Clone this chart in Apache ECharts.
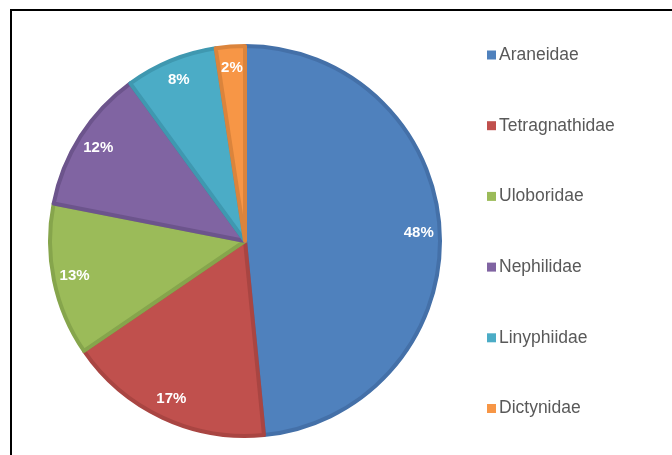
<!DOCTYPE html>
<html>
<head>
<meta charset="utf-8">
<script src="https://cdn.jsdelivr.net/npm/echarts@6/dist/echarts.min.js"></script>
<style>
  html, body { margin: 0; padding: 0; background: #fff; }
  #chart { width: 672px; height: 455px; }
</style>
</head>
<body>
<div id="chart"></div>
<script>
// spider families, share of individuals (%)
const families = ['Araneidae', 'Tetragnathidae', 'Uloboridae', 'Nephilidae', 'Linyphiidae', 'Dictynidae']
const shares = [48.4, 17.0, 12.6, 11.9, 7.6, 2.4]

const fillColors = ['#4F81BD', '#C0504D', '#9BBB59', '#8064A2', '#4BACC6', '#F79646']
const edgeColors = ['#4470A8', '#A94542', '#86A54C', '#6C548C', '#3F98B0', '#DB843C']

const chart = echarts.init(document.getElementById('chart'))

const pieData = families.map((name, i) => ({
  name,
  value: shares[i],
  itemStyle: { color: fillColors[i], borderColor: edgeColors[i] }
}))

// transparent ring only used to place the percentage labels near the rim
const labelData = families.map((name, i) => ({ name, value: shares[i] }))

const option = {
  animation: false,
  color: fillColors,
  legend: {
    orient: 'vertical',
    left: 482,
    top: 41,
    itemWidth: 9,
    itemHeight: 9,
    itemGap: 52.7,
    icon: 'rect',
    itemStyle: { borderWidth: 0 },
    textStyle: {
      fontFamily: 'Liberation Sans, Arial, sans-serif',
      fontSize: 17.5,
      color: '#595959',
      padding: [0, 0, 0, -2]
    },
    data: families
  },
  graphic: [
    {
      type: 'rect',
      shape: { x: 11, y: 10, width: 720, height: 500 },
      style: { fill: 'none', stroke: '#000', lineWidth: 2 },
      silent: true
    }
  ],
  series: [
    {
      name: 'families',
      type: 'pie',
      center: [245, 241],
      radius: [0, 195],
      startAngle: 90,
      clockwise: true,
      avoidLabelOverlap: false,
      itemStyle: { borderWidth: 4 },
      label: { show: false },
      labelLine: { show: false },
      emphasis: { disabled: true },
      data: pieData
    },
    {
      name: 'labels',
      type: 'pie',
      center: [245, 241],
      radius: [146, 196],
      startAngle: 90,
      clockwise: true,
      silent: true,
      avoidLabelOverlap: false,
      itemStyle: { color: 'transparent', borderWidth: 0 },
      label: {
        show: true,
        position: 'inside',
        formatter: (p) => Math.round(p.value) + '%',
        color: '#fff',
        fontFamily: 'Liberation Sans, Arial, sans-serif',
        fontWeight: 'bold',
        fontSize: 15
      },
      labelLine: { show: false },
      emphasis: { disabled: true },
      data: labelData
    }
  ]
}

chart.setOption(option)
</script>
</body>
</html>
